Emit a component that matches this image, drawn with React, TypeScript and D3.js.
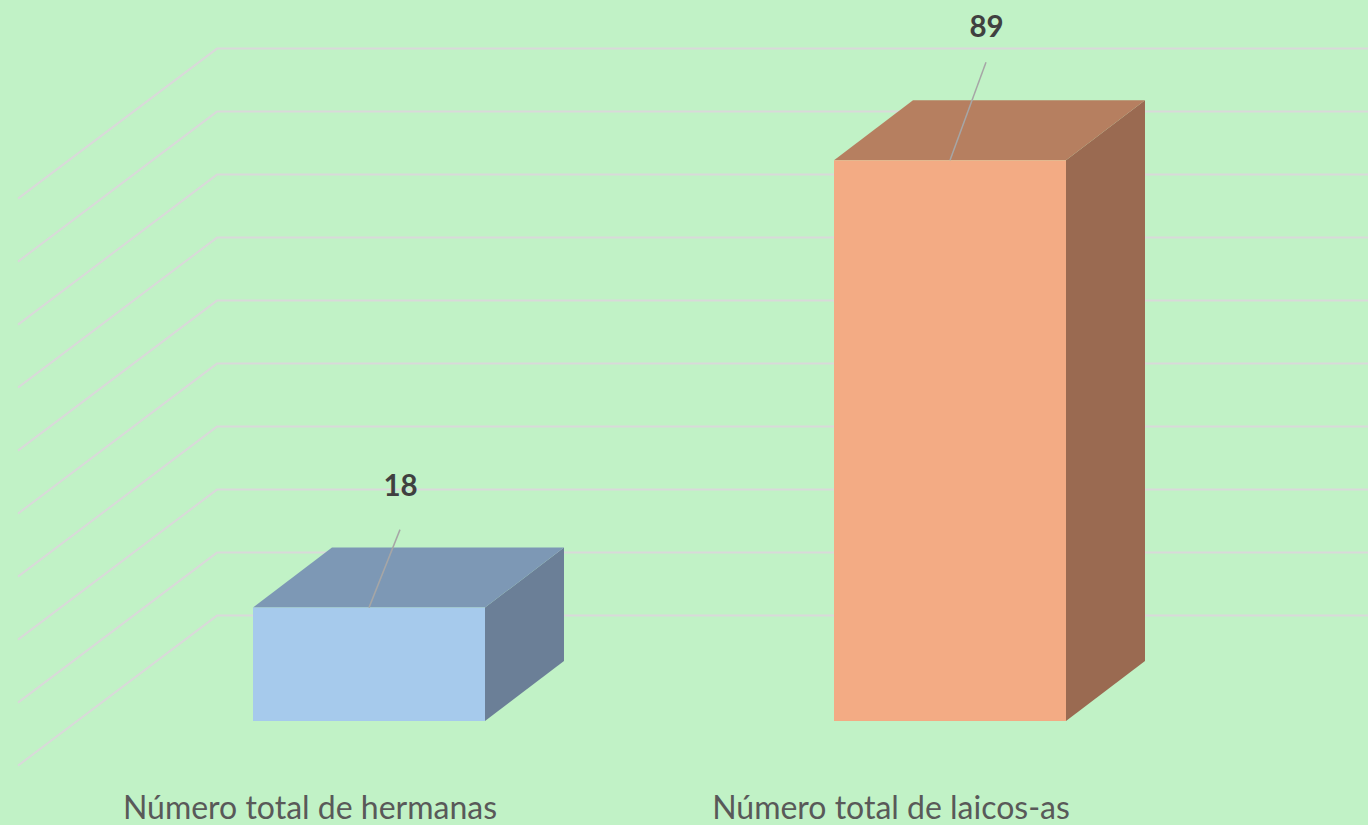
import React from 'react'
import * as d3 from 'd3'

const categories = ['Número total de hermanas', 'Número total de laicos-as']
const values = [18, 89]
const gridTicks = [0, 10, 20, 30, 40, 50, 60, 70, 80, 90]
const faceColors = ['#a6caec', '#f3ab84']
const topColors = ['#7d98b5', '#b67f60']
const sideColors = ['#6b7f97', '#9a6a51']
const leaderLengths = [78, 98]
const leaderDx = [31, 36]
const labelGaps = [112, 123.5]

const width = 1368
const height = 825
const depthX = 79
const depthY = -60

// front plane of the bars
const x = d3.scaleBand<string>().domain(categories).range([253, 1066]).paddingInner(0.6007)
const y = d3.scaleLinear().domain([0, 100]).range([721, 91])
// back wall, the gridlines sit a little higher than the bars' base
const yWall = d3.scaleLinear().domain([0, 90]).range([615.6, 48.6])

const poly = d3.line()
const font = "Lato, 'Open Sans', sans-serif"

const App = () => {
  const barW = x.bandwidth()
  return (
    <svg width={width} height={height} style={{ position: 'absolute', left: 0, top: 0 }}>
      <rect width={width} height={height} fill="#c1f2c6" />
      {gridTicks.map(t => (
        <path
          key={t}
          d={poly([[18, yWall(t) + 150], [217, yWall(t)], [width, yWall(t)]]) as string}
          fill="none"
          stroke="#d9d9d9"
          strokeWidth={2}
        />
      ))}
      {categories.map((c, i) => {
        const x0 = x(c) as number
        const x1 = x0 + barW
        const y0 = y(0)
        const y1 = y(values[i])
        const mid = (x0 + x1) / 2
        return (
          <g key={c}>
            <path
              d={poly([[x1, y1], [x1 + depthX, y1 + depthY], [x1 + depthX, y0 + depthY], [x1, y0]]) + 'Z'}
              fill={sideColors[i]}
            />
            <path
              d={poly([[x0, y1], [x0 + depthX, y1 + depthY], [x1 + depthX, y1 + depthY], [x1, y1]]) + 'Z'}
              fill={topColors[i]}
            />
            <rect x={x0} y={y1} width={barW} height={y0 - y1} fill={faceColors[i]} />
            <line
              x1={mid}
              y1={y1}
              x2={mid + leaderDx[i]}
              y2={y1 - leaderLengths[i]}
              stroke="#a6a6a6"
              strokeWidth={1.5}
            />
            <text
              x={mid + leaderDx[i] + 0.5}
              y={y1 - labelGaps[i]}
              textAnchor="middle"
              fontFamily={font}
              fontWeight={700}
              fontSize={29.5}
              fill="#404040"
            >
              {values[i]}
            </text>
            <text
              x={mid - 59}
              y={819}
              textAnchor="middle"
              fontFamily={font}
              fontSize={32}
              fill="#595959"
            >
              {c}
            </text>
          </g>
        )
      })}
    </svg>
  )
}

export default App
